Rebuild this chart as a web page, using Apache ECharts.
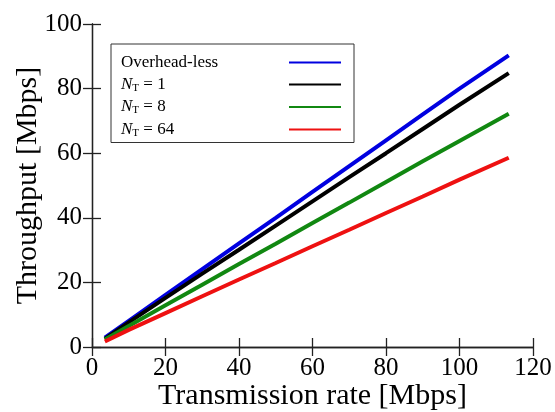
<!DOCTYPE html>
<html>
<head>
<meta charset="utf-8">
<script src="https://cdn.jsdelivr.net/npm/echarts@6/dist/echarts.min.js"></script>
<style>
  html, body { margin: 0; padding: 0; background: #fff; }
  #chart { width: 555px; height: 412px; }
</style>
</head>
<body>
<div id="chart"></div>
<script>
// transmission rate (x) and throughput per scheme
const rates = [3.5, 10, 20, 30, 40, 50, 60, 70, 80, 90, 100, 113.4]
const overheadLess = [2.9, 8.1, 16.1, 24.1, 32.1, 40.0, 48.0, 56.0, 64.0, 72.0, 80.0, 90.3]
const nt1 = [2.5, 7.6, 15.2, 22.7, 30.1, 37.6, 45.1, 52.6, 60.0, 67.5, 75.0, 84.8]
const nt8 = [2.3, 6.5, 12.9, 19.3, 25.7, 32.0, 38.4, 44.7, 51.1, 57.5, 63.8, 72.2]
const nt64 = [1.7, 5.3, 10.5, 15.7, 20.9, 26.0, 31.2, 36.3, 41.5, 46.6, 51.8, 58.6]
const seriesNames = ['Overhead-less', 'N_T = 1', 'N_T = 8', 'N_T = 64']
const seriesColors = ['#0000e0', '#000000', '#118811', '#ee1111']

const font = '"Liberation Serif", "DejaVu Serif", serif'
const pairs = vals => rates.map((x, i) => [x, vals[i]])

const chart = echarts.init(document.getElementById('chart'))

const axisCommon = {
  type: 'value',
  axisLine: { show: true, lineStyle: { color: '#222', width: 1.3 }},
  axisTick: { inside: true, length: 9, lineStyle: { color: '#222', width: 1.3 }},
  splitLine: { show: false }
}

const option = {
  animation: false,
  grid: { left: 92, right: 22, top: 24, bottom: 65, outerBoundsMode: 'none' },
  xAxis: [
    {
      ...axisCommon,
      min: 0, max: 120, interval: 20,
      name: 'Transmission rate [Mbps]',
      nameLocation: 'middle',
      nameMoveOverlap: false,
      nameGap: 34,
      nameTextStyle: { fontFamily: font, fontSize: 30, color: '#000' },
      axisLabel: { fontFamily: font, fontSize: 25, color: '#000', margin: 9 }
    },
    {
      ...axisCommon,
      position: 'top',
      min: 0, max: 120, interval: 20,
      axisLabel: { show: false }
    }
  ],
  yAxis: [
    {
      ...axisCommon,
      min: 0, max: 100, interval: 20,
      name: 'Throughput [Mbps]',
      nameLocation: 'middle',
      nameMoveOverlap: false,
      nameGap: 49,
      nameTextStyle: { fontFamily: font, fontSize: 30, color: '#000' },
      axisLabel: { fontFamily: font, fontSize: 25, color: '#000', margin: 10 }
    },
    {
      ...axisCommon,
      position: 'right',
      min: 0, max: 100, interval: 20,
      axisLabel: { show: false }
    }
  ],
  legend: {
    orient: 'vertical',
    left: 111,
    top: 44,
    align: 'right',
    icon: 'rect',
    itemWidth: 52,
    itemHeight: 2,
    itemGap: 5,
    padding: [10, 13, 4, 10],
    borderColor: '#333',
    borderWidth: 1,
    backgroundColor: '#fff',
    data: seriesNames,
    formatter: name => {
      if (name.indexOf('N_T') === 0) {
        return '{i|N}{s|T}{t| ' + name.slice(4) + '}'
      }
      return '{t|' + name + '}'
    },
    textStyle: {
      width: 163,
      fontFamily: font,
      fontSize: 17,
      color: '#000',
      rich: {
        t: { fontFamily: font, fontSize: 17, color: '#000', align: 'left', lineHeight: 19 },
        i: { fontFamily: font, fontSize: 17, fontStyle: 'italic', color: '#000', align: 'left', lineHeight: 19 },
        s: { fontFamily: font, fontSize: 11, color: '#000', align: 'left', padding: [7, 0, 0, 0] }
      }
    }
  },
  series: [overheadLess, nt1, nt8, nt64].map((vals, i) => ({
    name: seriesNames[i],
    type: 'line',
    data: pairs(vals),
    showSymbol: false,
    symbol: 'none',
    lineStyle: { width: 4, color: seriesColors[i] },
    itemStyle: { color: seriesColors[i] }
  }))
}

chart.setOption(option)
</script>
</body>
</html>
